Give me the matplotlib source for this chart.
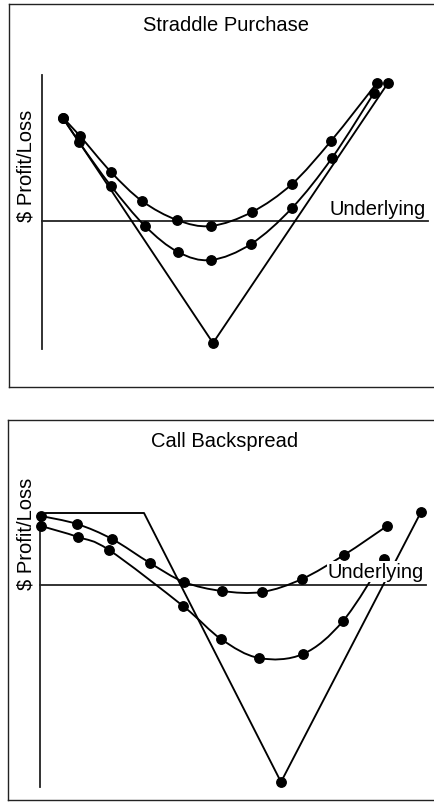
import numpy as np
import matplotlib.pyplot as plt
from matplotlib.path import Path
from matplotlib.patches import PathPatch

plt.rcParams['font.family'] = ['Liberation Sans', 'DejaVu Sans']

# Straddle purchase (x = underlying price, y = profit/loss)
straddle_expiry_x = [21, 171, 346]
straddle_expiry_y = [103, -122, 138]
straddle_short_x = [21, 38, 69, 100, 135, 169, 210, 250, 289, 335]
straddle_short_y = [103, 85, 49, 20, 1, -5, 9, 37, 80, 138]
straddle_mid_x = [21, 37, 69, 103, 136, 169, 209, 250, 290, 332]
straddle_mid_y = [103, 79, 35, -5, -31, -39, -23, 13, 63, 128]

# Call backspread
back_expiry_x = [6, 104, 241, 381]
back_expiry_y = [72, 72, -197, 73]
back_short_x = [1, 37, 72, 110, 144, 182, 222, 262, 304, 347]
back_short_y = [69, 61, 46, 22, 3, -6, -7, 6, 30, 59]
back_long_x = [1, 38, 69, 143, 181, 219, 263, 303, 344]
back_long_y = [59, 48, 35, -21, -54, -73, -69, -36, 26]


def smooth_curve(ax, xs, ys):
    # catmull-rom through the dots, drawn as bezier segments
    p = np.column_stack([xs, ys]).astype(float)
    p = np.vstack([p[0], p, p[-1]])
    verts = [p[1]]
    codes = [Path.MOVETO]
    for i in range(1, len(p) - 2):
        c1 = p[i] + (p[i + 1] - p[i - 1]) / 6
        c2 = p[i + 1] - (p[i + 2] - p[i]) / 6
        verts += [c1, c2, p[i + 1]]
        codes += [Path.CURVE4] * 3
    ax.add_patch(PathPatch(Path(verts, codes), fill=False, lw=1.35, color='black', zorder=3))
    ax.plot(xs, ys, 'o', color='black', ms=6.8, zorder=4)


def panel(ax, title, title_pos, ylab_pos, axis_len, und_pos, xlim, ylim):
    ax.set_xlim(*xlim)
    ax.set_ylim(*ylim)
    ax.set_xticks([])
    ax.set_yticks([])
    for s in ax.spines.values():
        s.set_linewidth(1.0)
        s.set_color('#222222')
    ax.plot([0, 0], axis_len, color='#222222', lw=1.3, zorder=2)
    ax.plot([0, 386], [0, 0], color='#222222', lw=1.3, zorder=2)
    ax.text(title_pos[0], title_pos[1], title, ha='center', va='baseline', fontsize=14.5)
    ax.text(ylab_pos[0], ylab_pos[1], '$ Profit/Loss', rotation=90, ha='center', va='center', fontsize=14.5)
    ax.text(und_pos[0], und_pos[1], 'Underlying', ha='right', va='baseline', fontsize=14.5, zorder=6,
            bbox=dict(facecolor='white', edgecolor='none', pad=0.6))


W, H = 434, 803
fig = plt.figure(figsize=(W / 100, H / 100), dpi=100)

ax1 = fig.add_axes([9 / W, (H - 388) / H, (436 - 9) / W, (388 - 5) / H])
panel(ax1, 'Straddle Purchase', (184, 191), (-16, 56), [146, -128], (384, 7), (-33, 394), (-166, 217))
ax1.plot(straddle_expiry_x, straddle_expiry_y, '-', color='black', lw=1.35, zorder=3)
ax1.plot(straddle_expiry_x[1:], straddle_expiry_y[1:], 'o', color='black', ms=6.8, zorder=4)
smooth_curve(ax1, straddle_short_x, straddle_short_y)
smooth_curve(ax1, straddle_mid_x, straddle_mid_y)

ax2 = fig.add_axes([7.5 / W, (H - 801) / H, (436 - 7.5) / W, (801 - 421) / H])
panel(ax2, 'Call Backspread', (185, 139), (-14, 52), [71, -202], (384, 8), (-32.5, 396), (-215, 165))
ax2.plot(back_expiry_x, back_expiry_y, '-', color='black', lw=1.35, zorder=3)
ax2.plot(back_expiry_x[2:], back_expiry_y[2:], 'o', color='black', ms=6.8, zorder=4)
smooth_curve(ax2, back_short_x, back_short_y)
smooth_curve(ax2, back_long_x, back_long_y)

fig.savefig('out.png', dpi=100)
